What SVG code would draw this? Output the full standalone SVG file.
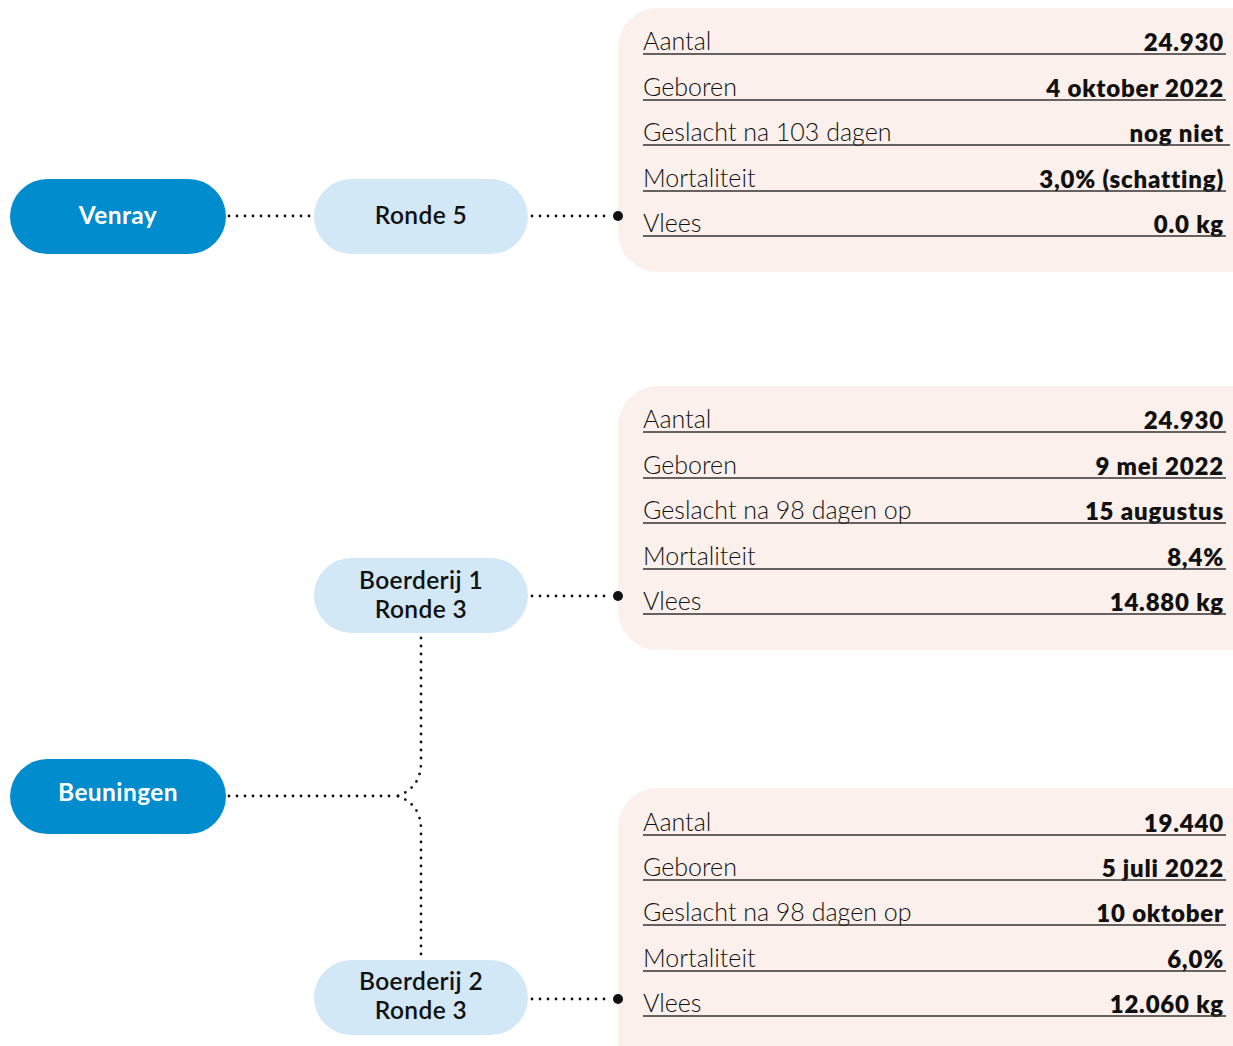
<svg xmlns="http://www.w3.org/2000/svg" width="1233" height="1046" viewBox="0 0 1233 1046">
<style>
.main{fill:#008ccd}
.sub{fill:#d2e8f6}
.panel{fill:#fbf0eb}
.nt{font-family:Lato,"Liberation Sans",sans-serif;font-size:24.5px;text-anchor:middle;letter-spacing:0.4px}
.w{fill:#ffffff;font-weight:700}
.b{fill:#111111;font-weight:600}
.lab{font-family:Lato,"Liberation Sans",sans-serif;font-size:25px;font-weight:300;fill:#111111}
.val{font-family:Lato,"Liberation Sans",sans-serif;font-size:24px;font-weight:800;fill:#111111;text-anchor:end;letter-spacing:0.8px}
.rule{stroke:#333333;stroke-width:1.5}
.dot{fill:none;stroke:#111111;stroke-width:2.8;stroke-linecap:round;stroke-dasharray:0 8}
.end{fill:#111111}
</style>
<g id="panel1">
<rect class="panel" x="618" y="8" width="660" height="264" rx="40"/>
<text class="lab" x="643" y="50">Aantal</text><text class="val" x="1224" y="51">24.930</text><line class="rule" x1="643" y1="54" x2="1226" y2="54"/>
<text class="lab" x="643" y="96">Geboren</text><text class="val" x="1224" y="97">4 oktober 2022</text><line class="rule" x1="643" y1="100" x2="1226" y2="100"/>
<text class="lab" x="643" y="141">Geslacht na 103 dagen</text><text class="val" x="1224" y="142">nog niet</text><line class="rule" x1="643" y1="145" x2="1230" y2="145"/>
<text class="lab" x="643" y="187">Mortaliteit</text><text class="val" x="1224" y="188">3,0% (schatting)</text><line class="rule" x1="643" y1="191" x2="1226" y2="191"/>
<text class="lab" x="643" y="232">Vlees</text><text class="val" x="1224" y="233">0.0 kg</text><line class="rule" x1="643" y1="236" x2="1226" y2="236"/>
</g>
<g id="panel2">
<rect class="panel" x="618" y="386" width="660" height="264" rx="40"/>
<text class="lab" x="643" y="428">Aantal</text><text class="val" x="1224" y="429">24.930</text><line class="rule" x1="643" y1="432" x2="1226" y2="432"/>
<text class="lab" x="643" y="474">Geboren</text><text class="val" x="1224" y="475">9 mei 2022</text><line class="rule" x1="643" y1="478" x2="1226" y2="478"/>
<text class="lab" x="643" y="519">Geslacht na 98 dagen op</text><text class="val" x="1224" y="520">15 augustus</text><line class="rule" x1="643" y1="523" x2="1226" y2="523"/>
<text class="lab" x="643" y="565">Mortaliteit</text><text class="val" x="1224" y="566">8,4%</text><line class="rule" x1="643" y1="569" x2="1226" y2="569"/>
<text class="lab" x="643" y="610">Vlees</text><text class="val" x="1224" y="611">14.880 kg</text><line class="rule" x1="643" y1="614" x2="1226" y2="614"/>
</g>
<g id="panel3">
<rect class="panel" x="618" y="788" width="660" height="300" rx="40"/>
<text class="lab" x="643" y="831">Aantal</text><text class="val" x="1224" y="832">19.440</text><line class="rule" x1="643" y1="835" x2="1226" y2="835"/>
<text class="lab" x="643" y="876">Geboren</text><text class="val" x="1224" y="877">5 juli 2022</text><line class="rule" x1="643" y1="880" x2="1226" y2="880"/>
<text class="lab" x="643" y="921">Geslacht na 98 dagen op</text><text class="val" x="1224" y="922">10 oktober</text><line class="rule" x1="643" y1="925" x2="1226" y2="925"/>
<text class="lab" x="643" y="967">Mortaliteit</text><text class="val" x="1224" y="968">6,0%</text><line class="rule" x1="643" y1="971" x2="1226" y2="971"/>
<text class="lab" x="643" y="1012">Vlees</text><text class="val" x="1224" y="1013">12.060 kg</text><line class="rule" x1="643" y1="1016" x2="1226" y2="1016"/>
</g>
<g id="connectors">
<path class="dot" d="M229 216 H311"/>
<path class="dot" d="M532 216 H612"/>
<circle class="end" cx="618" cy="216" r="5"/>
<path class="dot" d="M532 596 H612"/>
<circle class="end" cx="618" cy="596" r="5"/>
<path class="dot" d="M532 999 H612"/>
<circle class="end" cx="618" cy="999" r="5"/>
<path class="dot" d="M229 796 H397"/>
<path class="dot" d="M398 796 C413 790 421 780 421 762 V637"/>
<path class="dot" d="M398 796 C413 802 421 812 421 830 V958"/>
</g>
<g id="venray"><rect class="main" x="10" y="179" width="216" height="75" rx="37.5"/><text class="nt w" x="118" y="224">Venray</text></g>
<g id="ronde5"><rect class="sub" x="314" y="179" width="214" height="75" rx="37.5"/><text class="nt b" x="421" y="224">Ronde 5</text></g>
<g id="beuningen"><rect class="main" x="10" y="759" width="216" height="75" rx="37.5"/><text class="nt w" x="118" y="801">Beuningen</text></g>
<g id="boerderij1"><rect class="sub" x="314" y="558" width="214" height="75" rx="37.5"/><text class="nt b" x="421" y="589">Boerderij 1</text><text class="nt b" x="421" y="618">Ronde 3</text></g>
<g id="boerderij2"><rect class="sub" x="314" y="960" width="214" height="75" rx="37.5"/><text class="nt b" x="421" y="990">Boerderij 2</text><text class="nt b" x="421" y="1019">Ronde 3</text></g>
</svg>
